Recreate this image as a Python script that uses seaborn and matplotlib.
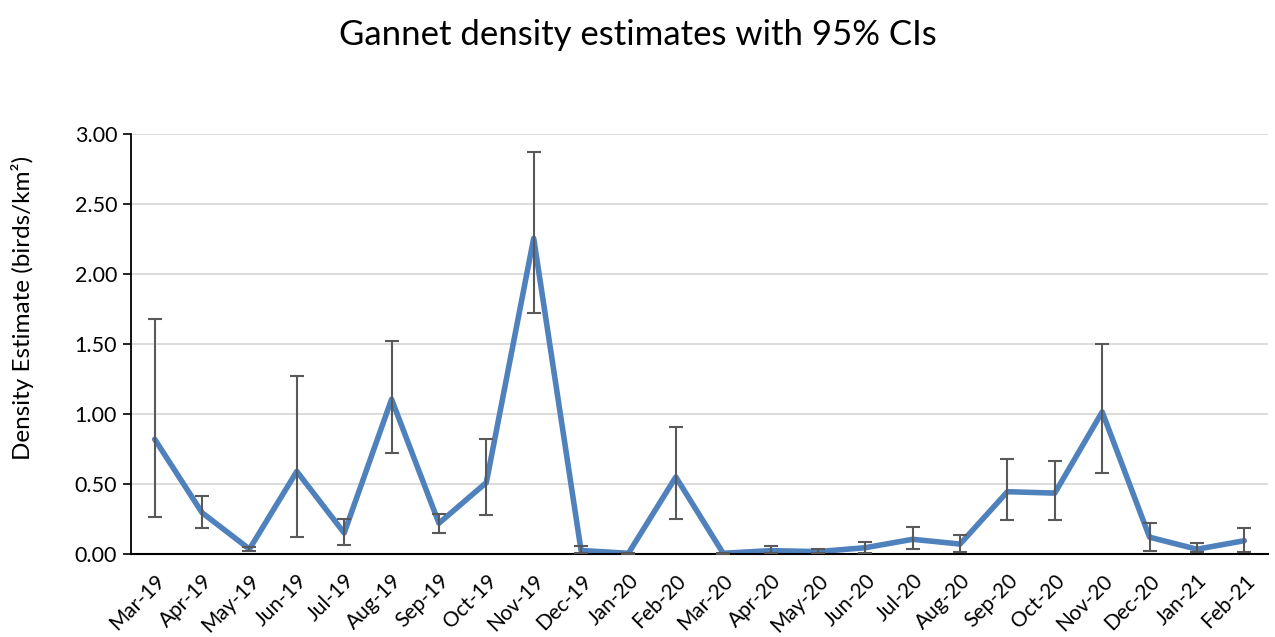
import matplotlib
matplotlib.use("Agg")
import matplotlib.pyplot as plt
import seaborn as sns
import pandas as pd
import numpy as np

months = ["Mar-19", "Apr-19", "May-19", "Jun-19", "Jul-19", "Aug-19", "Sep-19", "Oct-19",
          "Nov-19", "Dec-19", "Jan-20", "Feb-20", "Mar-20", "Apr-20", "May-20", "Jun-20",
          "Jul-20", "Aug-20", "Sep-20", "Oct-20", "Nov-20", "Dec-20", "Jan-21", "Feb-21"]
density = [0.82, 0.295, 0.035, 0.59, 0.15, 1.105, 0.22, 0.51,
           2.255, 0.025, 0.005, 0.55, 0.005, 0.024, 0.017, 0.045,
           0.105, 0.071, 0.445, 0.435, 1.015, 0.12, 0.034, 0.095]
ci_lower = [0.267, 0.186, 0.02, 0.121, 0.064, 0.724, 0.152, 0.276,
            1.719, 0.01, 0.0, 0.252, 0.0, 0.01, 0.005, 0.01,
            0.034, 0.012, 0.243, 0.243, 0.581, 0.024, 0.012, 0.012]
ci_upper = [1.676, 0.417, 0.05, 1.269, 0.248, 1.524, 0.283, 0.819,
            2.869, 0.057, 0.01, 0.91, 0.01, 0.057, 0.038, 0.088,
            0.195, 0.136, 0.679, 0.667, 1.498, 0.224, 0.081, 0.188]

df = pd.DataFrame({"Month": months, "Density": density,
                   "Lower": ci_lower, "Upper": ci_upper})

sns.set_theme(style="white")
plt.rcParams['font.family'] = ['Lato', 'DejaVu Sans']
plt.rcParams['text.color'] = 'black'
plt.rcParams['axes.labelcolor'] = 'black'
plt.rcParams['xtick.color'] = 'black'
plt.rcParams['ytick.color'] = 'black'

fig = plt.figure(figsize=(12.75, 6.37), dpi=100)
ax = fig.add_axes([131/1275, 1 - 554/637, (1268 - 131)/1275, (554 - 134)/637])

sns.lineplot(data=df, x="Month", y="Density", sort=False, color="#4F81BD",
             linewidth=4.0, ax=ax, zorder=2)
xpos = np.arange(len(months))
yerr = np.array([df["Density"] - df["Lower"], df["Upper"] - df["Density"]])
ax.errorbar(xpos, df["Density"], yerr=yerr, fmt="none", ecolor="#595959",
            elinewidth=1.5, capsize=5, capthick=1.5, zorder=3)

ax.set_xlim(-0.5, len(months) - 0.5)
ax.set_ylim(0, 3.0)
ax.set_yticks(np.arange(0, 3.01, 0.5))
ax.set_yticklabels([f"{v:.2f}" for v in np.arange(0, 3.01, 0.5)], fontsize=15.5)
ax.set_xticks(xpos)
ax.set_xticklabels(months, rotation=45, ha="right", rotation_mode="anchor", fontsize=15)
ax.grid(axis="y", color="#D9D9D9", linewidth=1.3)
ax.set_axisbelow(True)
for s in ["top", "right"]:
    ax.spines[s].set_visible(False)
ax.spines["left"].set_color("black")
ax.spines["bottom"].set_color("black")
ax.spines["left"].set_linewidth(1.3)
ax.spines["bottom"].set_linewidth(1.5)
ax.tick_params(axis="y", which="major", left=True, length=6, width=1.2, color="black", pad=4)
ax.tick_params(axis="x", bottom=False, pad=6)
ax.set_xlabel("")
ax.set_ylabel("Density Estimate (birds/km²)", fontsize=17.5)
ax.yaxis.set_label_coords(-0.085, 0.586)

fig.suptitle("Gannet density estimates with 95% CIs", fontsize=25, y=0.97, color="black")

fig.savefig("out.png", dpi=100)
